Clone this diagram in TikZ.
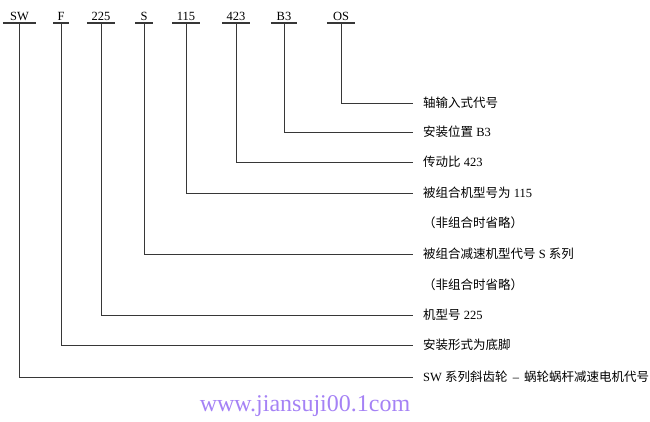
\documentclass[tikz,border=0pt]{standalone}
\usepackage{fontspec}
\setmainfont{Liberation Serif}
\newfontfamily\cjk{Noto Sans CJK SC}
\usepackage{tikz}
\definecolor{linegray}{RGB}{55,55,55}
\definecolor{markpurple}{RGB}{165,130,245}

\begin{document}
\begin{tikzpicture}[x=1pt, y=-1pt,
    code/.style={anchor=south, inner xsep=0pt, inner ysep=2pt, font=\fontsize{12.5}{13}\selectfont},
    desc/.style={anchor=west, inner xsep=10pt, inner ysep=0pt, font=\fontsize{12.5}{13}\selectfont},
    lead/.style={draw=linegray, line width=1pt},
    bar/.style={draw=linegray, line width=1.6pt}]
      \useasboundingbox (0,0) rectangle (650,421);

      \node[code, minimum width=33pt] (sw)  at (19.5, 23) {SW};
      \node[code, minimum width=15pt] (f)   at (61, 23)   {F};
      \node[code, minimum width=28pt] (225) at (101, 23)  {225};
      \node[code, minimum width=17pt] (s)   at (144, 23)  {S};
      \node[code, minimum width=28pt] (115) at (186, 23)  {115};
      \node[code, minimum width=28pt] (423) at (236, 23)  {423};
      \node[code, minimum width=26pt] (b3)  at (284, 23)  {B3};
      \node[code, minimum width=28pt] (os)  at (341, 23)  {OS};

      \node[desc] (dos)  at (413, 103) {\cjk 轴输入式代号};
      \node[desc] (db3)  at (413, 132) {{\cjk 安装位置} B3};
      \node[desc] (d423) at (413, 162) {{\cjk 传动比} 423};
      \node[desc] (d115) at (413, 193) {{\cjk 被组合机型号为} 115};
      \node[desc] (n115) at (413, 223) {\cjk （非组合时省略）};
      \node[desc] (ds)   at (413, 254) {{\cjk 被组合减速机型代号} S {\cjk 系列}};
      \node[desc] (ns)   at (413, 285) {\cjk （非组合时省略）};
      \node[desc] (d225) at (413, 315) {{\cjk 机型号} 225};
      \node[desc] (df)   at (413, 345) {\cjk 安装形式为底脚};
      \node[desc] (dsw)  at (413, 377) {SW {\cjk 系列斜齿轮} \,–\, {\cjk 蜗轮蜗杆减速电机代号}};

      \node[anchor=base, text=markpurple, font=\fontsize{24}{26}\selectfont] (site) at (305, 411) {www.jiansuji00.1com};

      \draw[bar] (sw.south west)  -- (sw.south east);
      \draw[bar] (f.south west)   -- (f.south east);
      \draw[bar] (225.south west) -- (225.south east);
      \draw[bar] (s.south west)   -- (s.south east);
      \draw[bar] (115.south west) -- (115.south east);
      \draw[bar] (423.south west) -- (423.south east);
      \draw[bar] (b3.south west)  -- (b3.south east);
      \draw[bar] (os.south west)  -- (os.south east);

      \draw[lead] (os.south)  |- (dos.west);
      \draw[lead] (b3.south)  |- (db3.west);
      \draw[lead] (423.south) |- (d423.west);
      \draw[lead] (115.south) |- (d115.west);
      \draw[lead] (s.south)   |- (ds.west);
      \draw[lead] (225.south) |- (d225.west);
      \draw[lead] (f.south)   |- (df.west);
      \draw[lead] (sw.south)  |- (dsw.west);
    \end{tikzpicture}
\end{document}
